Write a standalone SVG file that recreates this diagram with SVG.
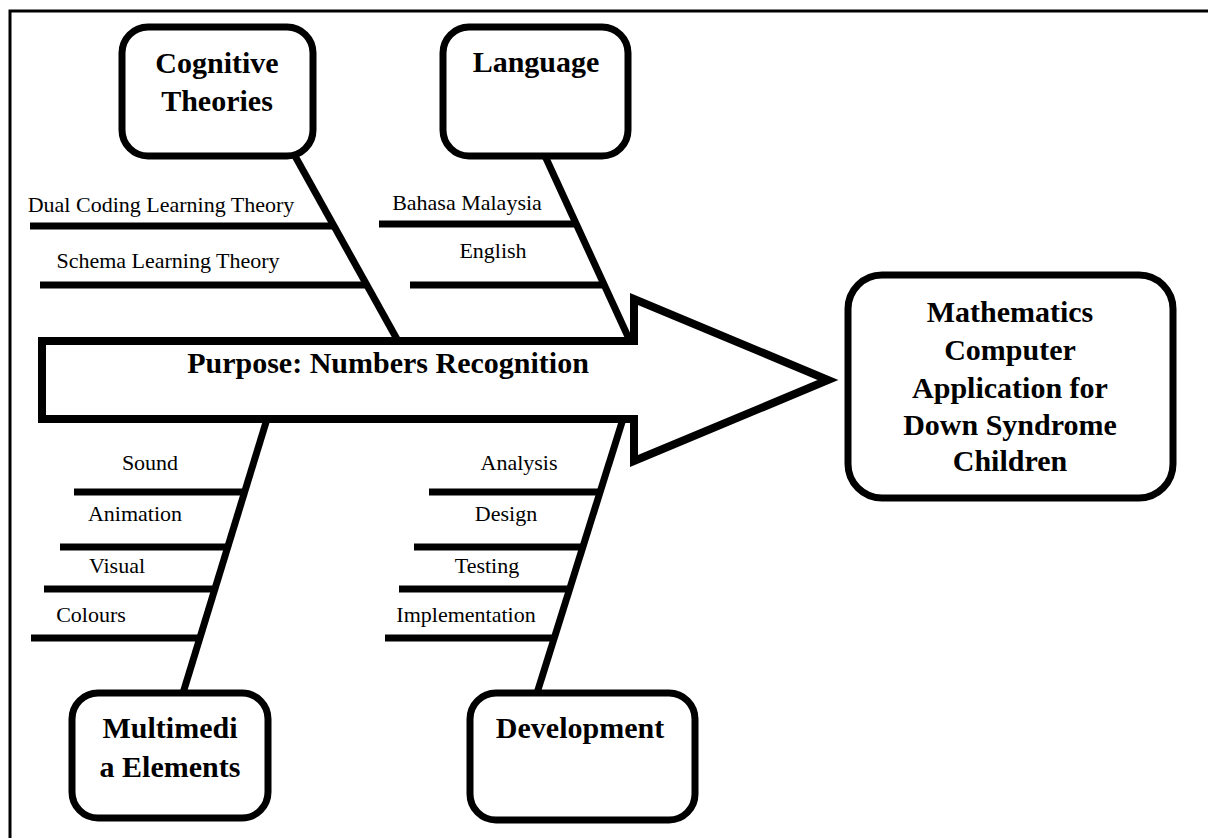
<svg xmlns="http://www.w3.org/2000/svg" width="1208" height="838" viewBox="0 0 1208 838">
<style>
.frame{fill:none;stroke:#000;stroke-width:3}
.box{fill:#fff;stroke:#000;stroke-width:7}
.ln{stroke:#000;stroke-width:7;fill:none;stroke-linecap:butt}
.arrow{fill:#fff;stroke:#000;stroke-width:8;stroke-linejoin:miter;stroke-miterlimit:10}
.t{font-family:"Liberation Serif","Times New Roman",serif;font-size:22px;fill:#000;text-anchor:middle}
.b{font-family:"Liberation Serif","Times New Roman",serif;font-size:30px;font-weight:bold;fill:#000;text-anchor:middle}
</style>
<rect width="1208" height="838" fill="#fff"/>
<rect class="frame" x="10" y="11" width="1220" height="850"/>

<g id="connectors">
<line class="ln" x1="295" y1="156" x2="398" y2="341"/>
<line class="ln" x1="545" y1="156" x2="630" y2="341"/>
<line class="ln" x1="267" y1="419" x2="183" y2="693"/>
<line class="ln" x1="623" y1="419" x2="537" y2="693"/>
<line class="ln" x1="30" y1="226" x2="334" y2="226"/>
<line class="ln" x1="40" y1="285" x2="367" y2="285"/>
<line class="ln" x1="379" y1="224" x2="576" y2="224"/>
<line class="ln" x1="410" y1="285" x2="604" y2="285"/>
<line class="ln" x1="74" y1="492" x2="245" y2="492"/>
<line class="ln" x1="60" y1="547" x2="228" y2="547"/>
<line class="ln" x1="44" y1="589" x2="215" y2="589"/>
<line class="ln" x1="31" y1="638" x2="200" y2="638"/>
<line class="ln" x1="429" y1="492" x2="600" y2="492"/>
<line class="ln" x1="414" y1="547" x2="583" y2="547"/>
<line class="ln" x1="399" y1="589" x2="570" y2="589"/>
<line class="ln" x1="385" y1="638" x2="554" y2="638"/>
</g>

<g id="labels">
<text class="t" x="161" y="212">Dual Coding Learning Theory</text>
<text class="t" x="168" y="268">Schema Learning Theory</text>
<text class="t" x="467" y="210">Bahasa Malaysia</text>
<text class="t" x="493" y="258">English</text>
<text class="t" x="150" y="470">Sound</text>
<text class="t" x="135" y="521">Animation</text>
<text class="t" x="117" y="573">Visual</text>
<text class="t" x="91" y="622">Colours</text>
<text class="t" x="519" y="470">Analysis</text>
<text class="t" x="506" y="521">Design</text>
<text class="t" x="487" y="573">Testing</text>
<text class="t" x="466" y="622">Implementation</text>
</g>

<g id="purpose">
<polygon class="arrow" points="42,341 634,341 634,299 828,380 634,461 634,419 42,419"/>
<text class="b" x="388" y="373">Purpose: Numbers Recognition</text>
</g>

<g id="cognitive">
<rect class="box" x="122" y="27" width="191" height="129" rx="26"/>
<text class="b" x="217" y="73">Cognitive</text>
<text class="b" x="217" y="111">Theories</text>
</g>

<g id="language">
<rect class="box" x="443" y="27" width="185" height="129" rx="26"/>
<text class="b" x="536" y="72">Language</text>
</g>

<g id="multimedia">
<rect class="box" x="72" y="693" width="196" height="125" rx="26"/>
<text class="b" x="170" y="738">Multimedi</text>
<text class="b" x="170" y="777">a Elements</text>
</g>

<g id="development">
<rect class="box" x="470" y="693" width="225" height="127" rx="26"/>
<text class="b" x="580" y="738">Development</text>
</g>

<g id="outcome">
<rect class="box" x="848" y="275" width="325" height="223" rx="34"/>
<text class="b" x="1010" y="322">Mathematics</text>
<text class="b" x="1010" y="360">Computer</text>
<text class="b" x="1010" y="398">Application for</text>
<text class="b" x="1010" y="435">Down Syndrome</text>
<text class="b" x="1010" y="471">Children</text>
</g>
</svg>
